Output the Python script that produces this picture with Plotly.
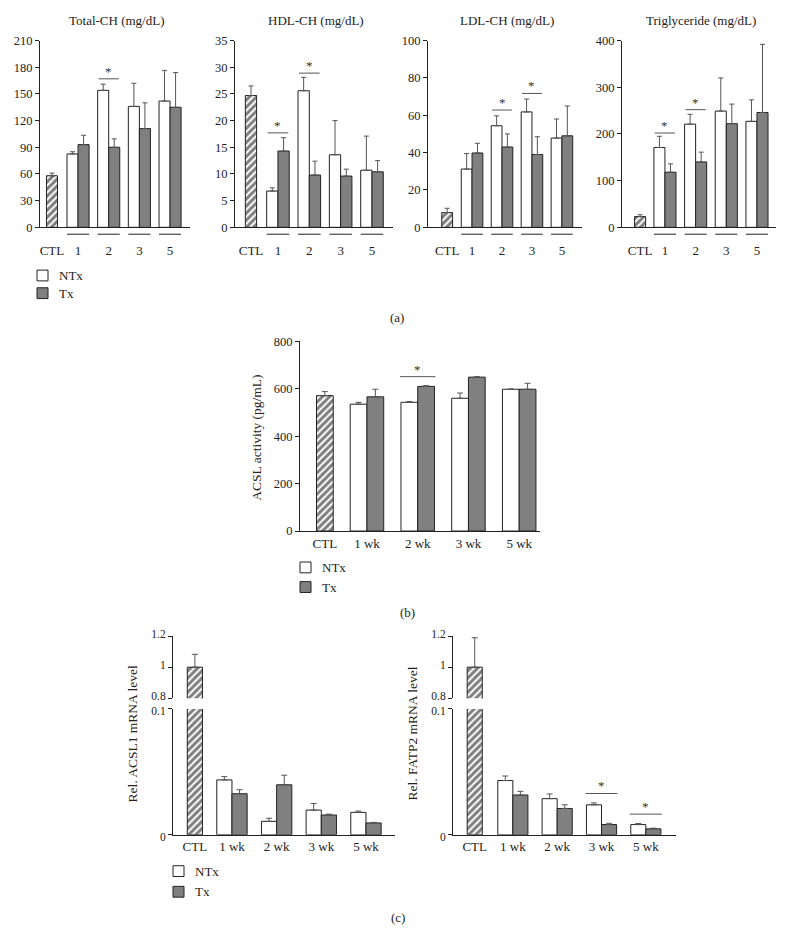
import plotly.graph_objects as go

# The page body has an 8px default margin, so the figure is sized to fit inside it.
PAGE_W, PAGE_H = 800, 952
OFF = 8
W, H = PAGE_W - 2 * OFF, PAGE_H - 2 * OFF
FONT = "Liberation Serif"
INK = "#222222"
TX_FILL = "#808080"

# ---------------- data ----------------
weeks_a = ["1", "2", "3", "5"]
weeks_bc = ["1 wk", "2 wk", "3 wk", "5 wk"]

total_ctl = [58]
total_ctl_err = [3]
total_ntx = [82.5, 154, 136, 142]
total_ntx_err = [2.5, 7, 26, 34.5]
total_tx = [93, 90, 111, 135]
total_tx_err = [10.5, 9.5, 29, 39]
total_sig = [(1, 167)]

hdl_ctl = [24.7]
hdl_ctl_err = [1.8]
hdl_ntx = [6.8, 25.6, 13.6, 10.7]
hdl_ntx_err = [0.6, 2.5, 6.4, 6.4]
hdl_tx = [14.3, 9.8, 9.6, 10.4]
hdl_tx_err = [2.5, 2.6, 1.3, 2.1]
hdl_sig = [(0, 17.7), (1, 28.9)]

ldl_ctl = [7.9]
ldl_ctl_err = [2.3]
ldl_ntx = [31.2, 54.4, 61.8, 47.8]
ldl_ntx_err = [8.3, 5.3, 6.9, 10.2]
ldl_tx = [39.8, 43, 39, 49]
ldl_tx_err = [5.2, 7, 9.5, 16]
ldl_sig = [(1, 62.8), (2, 71.7)]

tg_ctl = [23]
tg_ctl_err = [4]
tg_ntx = [171, 221, 249, 227]
tg_ntx_err = [24, 21, 71, 46]
tg_tx = [118, 140, 222, 246]
tg_tx_err = [18, 21, 42, 146]
tg_sig = [(0, 202), (1, 252)]

acsl_ctl = [571]
acsl_ctl_err = [17]
acsl_ntx = [535, 543, 560, 598]
acsl_ntx_err = [8, 3, 22, 1]
acsl_tx = [566, 610, 649, 598]
acsl_tx_err = [32, 3, 2, 25]
acsl_sig = [(1, 651)]

acsl1_ctl = [1.0]
acsl1_ctl_err = [0.083]
acsl1_ntx = [0.0436, 0.0107, 0.0196, 0.0178]
acsl1_ntx_err = [0.0026, 0.0024, 0.0052, 0.001]
acsl1_tx = [0.0326, 0.0397, 0.0157, 0.0094]
acsl1_tx_err = [0.0032, 0.0076, 0.0007, 0.0004]
acsl1_sig = []

fatp2_ctl = [1.0]
fatp2_ctl_err = [0.19]
fatp2_ntx = [0.0431, 0.0287, 0.0238, 0.0081]
fatp2_ntx_err = [0.0036, 0.0037, 0.0015, 0.0008]
fatp2_tx = [0.0316, 0.0209, 0.0081, 0.0047]
fatp2_tx_err = [0.0029, 0.0029, 0.001, 0.0005]
fatp2_sig = [(2, 0.0328), (3, 0.0164)]

# ---------------- helpers ----------------
fig = go.Figure()
layout = {}
shapes = []
annotations = []
axis_n = [0]


def fx(p):
    return (p - OFF) / W


def fy(p):
    return 1 - (p - OFF) / H


def px_x(a, b):
    return [fx(a), fx(b)]


def px_y(top, bottom):
    return [fy(bottom), fy(top)]


def tfont(size=13, color=INK):
    return dict(family=FONT, size=size, color=color)


def new_axes(xpx, ypx, xrange, yrange, ytickvals, yticktext,
             xtickvals=None, xticktext=None, show_x=True, standoff=None,
             yshift_labels=None, ytick_size=12.5):
    axis_n[0] += 1
    n = axis_n[0]
    xk = "xaxis" if n == 1 else f"xaxis{n}"
    yk = "yaxis" if n == 1 else f"yaxis{n}"
    xr = "x" if n == 1 else f"x{n}"
    yr = "y" if n == 1 else f"y{n}"
    xa = dict(domain=px_x(*xpx), range=xrange, anchor=yr, showgrid=False,
              zeroline=False, fixedrange=True)
    if show_x:
        xa.update(showline=True, linecolor=INK, linewidth=1, ticks="",
                  tickmode="array", tickvals=xtickvals, ticktext=xticktext,
                  tickfont=tfont(13))
        if standoff is not None:
            xa["ticklabelstandoff"] = standoff
    else:
        xa.update(visible=False)
    ya = dict(domain=px_y(*ypx), range=yrange, anchor=xr, showgrid=False,
              zeroline=False, showline=True, linecolor=INK, linewidth=1,
              ticks="outside", ticklen=4, tickcolor=INK, tickmode="array",
              tickvals=ytickvals, ticktext=yticktext, tickfont=tfont(ytick_size),
              fixedrange=True)
    if yshift_labels is not None:
        ya["ticklabelshift"] = yshift_labels
    layout[xk] = xa
    layout[yk] = ya
    return xr, yr


def err_spec(e, cap):
    if e is None:
        return dict(visible=False)
    return dict(type="data", symmetric=False, array=e, arrayminus=[0] * len(e),
                color="#555555", thickness=1, width=cap, visible=True)


def add_bars(xr, yr, ctl_pos, width, ctl, ctl_err, ntx, ntx_err, tx, tx_err,
             weeks, cap):
    gpos = [i + 1 for i in range(len(weeks))]
    fig.add_trace(go.Bar(
        x=[ctl_pos], y=ctl, width=width, offset=-width / 2, xaxis=xr, yaxis=yr,
        marker=dict(color="white", line=dict(color=INK, width=1),
                    pattern=dict(shape="/", fgcolor="#000000", bgcolor="white",
                                 size=5, solidity=0.6)),
        error_y=err_spec(ctl_err, cap), showlegend=False, hoverinfo="skip"))
    if ntx is not None:
        fig.add_trace(go.Bar(
            x=gpos, y=ntx, width=width, offset=-width, xaxis=xr, yaxis=yr,
            marker=dict(color="white", line=dict(color=INK, width=1)),
            error_y=err_spec(ntx_err, cap), showlegend=False, hoverinfo="skip"))
        fig.add_trace(go.Bar(
            x=gpos, y=tx, width=width, offset=0, xaxis=xr, yaxis=yr,
            marker=dict(color=TX_FILL, line=dict(color=INK, width=1)),
            error_y=err_spec(tx_err, cap), showlegend=False, hoverinfo="skip"))
    return gpos


def add_sig(xr, yr, sig, half):
    for gi, h in sig:
        c = gi + 1
        shapes.append(dict(type="line", xref=xr, yref=yr, x0=c - half, x1=c + half,
                           y0=h, y1=h, line=dict(color="#555555", width=1)))
        annotations.append(dict(xref=xr, yref=yr, x=c, y=h, text="*",
                                showarrow=False, yanchor="bottom", yshift=-2,
                                font=tfont(13, "#333333")))


def legend(x_box, y_ntx, y_tx, x_text):
    for yc, fill, label in [(y_ntx, "white", "NTx"), (y_tx, TX_FILL, "Tx")]:
        shapes.append(dict(type="rect", xref="paper", yref="paper",
                           x0=fx(x_box), x1=fx(x_box + 11),
                           y0=fy(yc + 5.5), y1=fy(yc - 5.5),
                           fillcolor=fill, line=dict(color=INK, width=1)))
        annotations.append(dict(xref="paper", yref="paper", x=fx(x_text),
                                y=fy(yc), text=label, showarrow=False,
                                xanchor="left", yanchor="middle", font=tfont(13)))


def paper_text(xp, yp, text, size=13, angle=0):
    annotations.append(dict(xref="paper", yref="paper", x=fx(xp), y=fy(yp),
                            text=text, showarrow=False, xanchor="center",
                            yanchor="middle", textangle=angle, font=tfont(size)))


# ---------------- panel (a) ----------------
panel_a = [
    ("Total-CH (mg/dL)", (40, 190), (-0.24, 4.65), 0.15, [0, 210], 30,
     total_ctl, total_ctl_err, total_ntx, total_ntx_err, total_tx, total_tx_err, total_sig),
    ("HDL-CH (mg/dL)", (235, 393), (-0.37, 4.67), 0.14, [0, 35], 5,
     hdl_ctl, hdl_ctl_err, hdl_ntx, hdl_ntx_err, hdl_tx, hdl_tx_err, hdl_sig),
    ("LDL-CH (mg/dL)", (428, 582), (-0.47, 4.67), 0.17, [0, 100], 20,
     ldl_ctl, ldl_ctl_err, ldl_ntx, ldl_ntx_err, ldl_tx, ldl_tx_err, ldl_sig),
    ("Triglyceride (mg/dL)", (622, 776), (-0.40, 4.62), 0.19, [0, 400], 100,
     tg_ctl, tg_ctl_err, tg_ntx, tg_ntx_err, tg_tx, tg_tx_err, tg_sig),
]
A_TOP, A_BOT = 33, 223
for (title, xpx, xrng, ctl_pos, yrng, dt, c, ce, n_, ne, t_, te, sig) in panel_a:
    yt = list(range(yrng[0], yrng[1] + 1, dt))
    gpos = [i + 1 for i in range(len(weeks_a))]
    xr, yr = new_axes(xpx, (A_TOP, A_BOT), list(xrng), yrng, yt, [str(v) for v in yt],
                      [ctl_pos] + gpos, ["CTL"] + weeks_a, standoff=11)
    add_bars(xr, yr, ctl_pos, 0.36, c, ce, n_, ne, t_, te, weeks_a, 2.5)
    add_sig(xr, yr, sig, 0.33)
    for g in gpos:
        shapes.append(dict(type="line", xref=xr, yref="paper", x0=g - 0.36, x1=g + 0.36,
                           y0=fy(230), y1=fy(230), line=dict(color=INK, width=1)))
    annotations.append(dict(xref=xr, yref="paper", x=4.78, y=fy(247), text="(wk)",
                            showarrow=False, xanchor="center", yanchor="middle",
                            font=tfont(13)))
    annotations.append(dict(xref="paper", yref="paper", x=fx((xpx[0] + xpx[1]) / 2 + 2),
                            y=fy(13), text=title, showarrow=False,
                            xanchor="center", yanchor="middle", font=tfont(13)))

legend(37, 272, 290, 57)
paper_text(397, 315, "(a)")

# ---------------- panel (b) ----------------
gpos_b = [i + 1 for i in range(len(weeks_bc))]
yt_b = [0, 200, 400, 600, 800]
xr, yr = new_axes((300, 540), (339, 532), [-0.32, 4.41], [0, 800], yt_b,
                  [str(v) for v in yt_b], [0.17] + gpos_b, ["CTL"] + weeks_bc)
add_bars(xr, yr, 0.17, 0.33, acsl_ctl, acsl_ctl_err, acsl_ntx, acsl_ntx_err,
         acsl_tx, acsl_tx_err, weeks_bc, 3)
add_sig(xr, yr, acsl_sig, 0.35)
paper_text(257, 437, "ACSL activity (pg/mL)", 13.5, -90)
legend(300, 569, 589, 320)
paper_text(407, 615, "(b)")

# ---------------- panel (c) ----------------
panel_c = [
    ("Rel. ACSL1 mRNA level", (173, 395), (-0.32, 4.65), 0.17, 133,
     acsl1_ctl, acsl1_ctl_err, acsl1_ntx, acsl1_ntx_err, acsl1_tx, acsl1_tx_err, acsl1_sig),
    ("Rel. FATP2 mRNA level", (453, 676), (-0.35, 4.68), 0.14, 413,
     fatp2_ctl, fatp2_ctl_err, fatp2_ntx, fatp2_ntx_err, fatp2_tx, fatp2_tx_err, fatp2_sig),
]
for (title, xpx, xrng, ctl_pos, ytx, c, ce, n_, ne, t_, te, sig) in panel_c:
    gpos = [i + 1 for i in range(len(weeks_bc))]
    # upper (broken) segment
    xu, yu = new_axes(xpx, (639, 702), list(xrng), [0.8, 1.2], [0.8, 1.0, 1.2],
                      ["0.8", "1", "1.2"], show_x=False, yshift_labels=-2,
                      ytick_size=11.5)
    add_bars(xu, yu, ctl_pos, 0.34, c, ce, None, None, None, None, weeks_bc, 3)
    # lower segment
    xl, yl = new_axes(xpx, (713, 841), list(xrng), [0, 0.1], [0, 0.1], ["0", "0.1"],
                      [ctl_pos] + gpos, ["CTL"] + weeks_bc, yshift_labels=2,
                      ytick_size=11.5)
    add_bars(xl, yl, ctl_pos, 0.34, c, None, n_, ne, t_, te, weeks_bc, 3)
    add_sig(xl, yl, sig, 0.36)
    paper_text(ytx, 738, title, 13.5, -90)

legend(173, 878, 899, 193)
paper_text(398, 925, "(c)")

layout.update(
    width=W, height=H, margin=dict(l=0, r=0, t=0, b=0),
    paper_bgcolor="white", plot_bgcolor="white", showlegend=False,
    barmode="overlay", shapes=shapes, annotations=annotations,
    font=tfont(13),
)
fig.update_layout(**layout)
fig.write_html("out.html")
